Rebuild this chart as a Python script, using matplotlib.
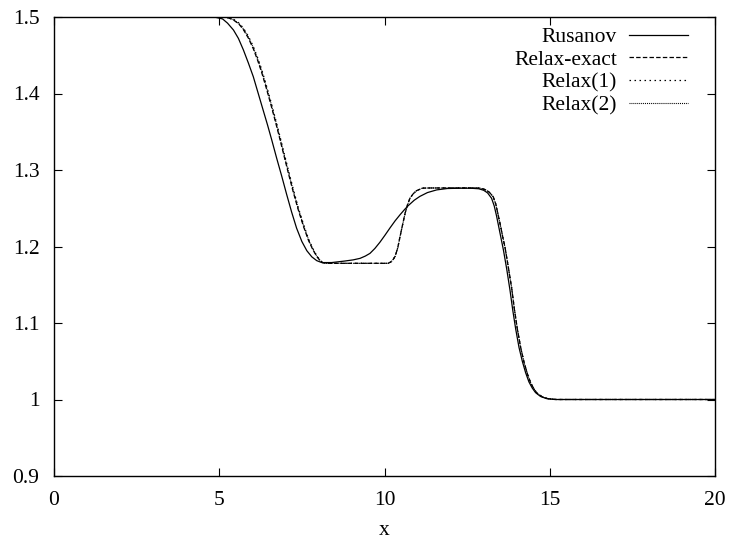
import matplotlib
matplotlib.use("Agg")
import matplotlib.pyplot as plt
from matplotlib.ticker import FormatStrFormatter

# curves (x, density-like quantity)
rus_x = [0, 4.5, 4.9, 5.1, 5.25, 5.43, 5.58, 5.73, 5.88, 6.03, 6.18, 6.33,
         6.46, 6.59, 6.74, 6.89, 7.04, 7.19, 7.34, 7.5, 7.65, 7.8, 7.95, 8.1,
         8.4, 8.8, 9.05, 9.26, 9.42, 9.56, 9.71, 9.86, 10.01, 10.17, 10.32,
         10.47, 10.6, 10.72, 10.9, 11.07, 11.3, 11.58, 11.9, 12.3, 12.6, 12.85,
         13.0, 13.12, 13.24, 13.32, 13.39, 13.46, 13.53, 13.6, 13.7, 13.8,
         13.88, 13.97, 14.07, 14.17, 14.27, 14.37, 14.47, 14.57, 14.72, 14.9,
         15.15, 20]
rus_y = [1.5, 1.5, 1.4995, 1.4975, 1.492, 1.483, 1.472, 1.457, 1.440, 1.422,
         1.400, 1.378, 1.359, 1.339, 1.315, 1.292, 1.268, 1.245, 1.224, 1.2065,
         1.1945, 1.1865, 1.1815, 1.179, 1.179, 1.181, 1.1825, 1.1845, 1.1875,
         1.191, 1.1975, 1.2055, 1.2145, 1.2245, 1.2335, 1.2415, 1.248, 1.2535,
         1.2605, 1.2655, 1.2705, 1.274, 1.2758, 1.2762, 1.2762, 1.2755, 1.2735,
         1.270, 1.263, 1.253, 1.240, 1.225, 1.210, 1.195, 1.170, 1.142, 1.117,
         1.092, 1.068, 1.050, 1.035, 1.023, 1.015, 1.009, 1.004, 1.0012, 1.0,
         1.0]

relax_x = [0, 5.12, 5.3, 5.45, 5.6, 5.73, 5.88, 6.03, 6.16, 6.28, 6.41, 6.54,
           6.67, 6.79, 6.94, 7.09, 7.24, 7.39, 7.55, 7.7, 7.83, 7.95, 8.05,
           8.14, 8.3, 10.11, 10.2, 10.26, 10.32, 10.4, 10.47, 10.55, 10.62,
           10.7, 10.77, 10.87, 10.97, 11.15, 11.38, 12.8, 12.9, 13.04, 13.17,
           13.29, 13.37, 13.44, 13.52, 13.58, 13.65, 13.75, 13.85, 13.93, 14.02,
           14.12, 14.22, 14.32, 14.42, 14.52, 14.62, 14.77, 14.95, 15.2, 20]
relax_exact_y = [1.5, 1.5, 1.4985, 1.4955, 1.4905, 1.4835, 1.4725, 1.4585,
                 1.4435, 1.428, 1.409, 1.389, 1.368, 1.348, 1.322, 1.296,
                 1.271, 1.248, 1.226, 1.208, 1.196, 1.187, 1.1815, 1.1785,
                 1.178, 1.178, 1.180, 1.183, 1.187, 1.198, 1.213, 1.229, 1.243,
                 1.255, 1.263, 1.269, 1.273, 1.2763, 1.2765, 1.2765, 1.2762,
                 1.2745, 1.271, 1.265, 1.255, 1.241, 1.225, 1.212, 1.198,
                 1.172, 1.145, 1.118, 1.092, 1.068, 1.049, 1.034, 1.022, 1.014,
                 1.008, 1.0035, 1.001, 1.0, 1.0]
relax1_y = [1.5, 1.5, 1.499, 1.4965, 1.492, 1.4855, 1.475, 1.4615, 1.447,
            1.432, 1.413, 1.393, 1.372, 1.352, 1.326, 1.300, 1.275, 1.251,
            1.229, 1.210, 1.1975, 1.188, 1.182, 1.1787, 1.178, 1.178, 1.180,
            1.183, 1.187, 1.198, 1.213, 1.229, 1.243, 1.255, 1.263, 1.269,
            1.273, 1.2763, 1.2765, 1.2765, 1.2762, 1.2745, 1.271, 1.265,
            1.255, 1.241, 1.225, 1.212, 1.198, 1.172, 1.145, 1.118, 1.092,
            1.068, 1.049, 1.034, 1.022, 1.014, 1.008, 1.0035, 1.001, 1.0, 1.0]
relax2_y = [1.5, 1.5, 1.4988, 1.496, 1.4912, 1.4845, 1.4738, 1.46, 1.4452,
            1.43, 1.411, 1.391, 1.370, 1.350, 1.324, 1.298, 1.273, 1.2495,
            1.2275, 1.209, 1.1968, 1.1875, 1.1818, 1.1786, 1.178, 1.178, 1.180,
            1.183, 1.187, 1.198, 1.213, 1.229, 1.243, 1.255, 1.263, 1.269,
            1.273, 1.2763, 1.2765, 1.2765, 1.2762, 1.2745, 1.271, 1.265,
            1.255, 1.241, 1.225, 1.212, 1.198, 1.172, 1.145, 1.118, 1.092,
            1.068, 1.049, 1.034, 1.022, 1.014, 1.008, 1.0035, 1.001, 1.0, 1.0]

x_ticks = [0, 5, 10, 15, 20]
y_ticks = [0.9, 1.0, 1.1, 1.2, 1.3, 1.4, 1.5]

plt.rcParams['font.family'] = ['Liberation Serif', 'DejaVu Serif']
plt.rcParams['font.size'] = 15.5
plt.rcParams['lines.scale_dashes'] = False

fig = plt.figure(figsize=(7.31, 5.44), dpi=100)
ax = fig.add_axes([54 / 731, 68 / 544, 661 / 731, 459 / 544])

ax.plot(rus_x, rus_y, color='black', lw=0.9, label='Rusanov')
ax.plot(relax_x, relax_exact_y, color='black', lw=0.9,
        linestyle=(0, (3.2, 1.6)), label='Relax-exact')
ax.plot(relax_x, relax1_y, color='black', lw=0.9,
        linestyle=(0, (1.1, 2.5)), label='Relax(1)')
ax.plot(relax_x, relax2_y, color='black', lw=0.8,
        linestyle=(0, (0.7, 0.7)), label='Relax(2)')

ax.set_xlim(0, 20)
ax.set_ylim(0.9, 1.5)
ax.set_xticks(x_ticks)
ax.set_yticks(y_ticks)
ax.yaxis.set_major_formatter(FormatStrFormatter('%g'))
ax.tick_params(direction='in', top=True, right=True, length=6, width=0.8,
               pad=10.5)
for s in ax.spines.values():
    s.set_linewidth(1.0)
ax.set_xlabel('x', labelpad=8)

ax.legend(loc='upper right', bbox_to_anchor=(0.959, 0.978), frameon=False,
          markerfirst=False, handlelength=2.75, handletextpad=0.55,
          borderpad=0, borderaxespad=0, labelspacing=0.12)

fig.savefig('out.png', dpi=100)
